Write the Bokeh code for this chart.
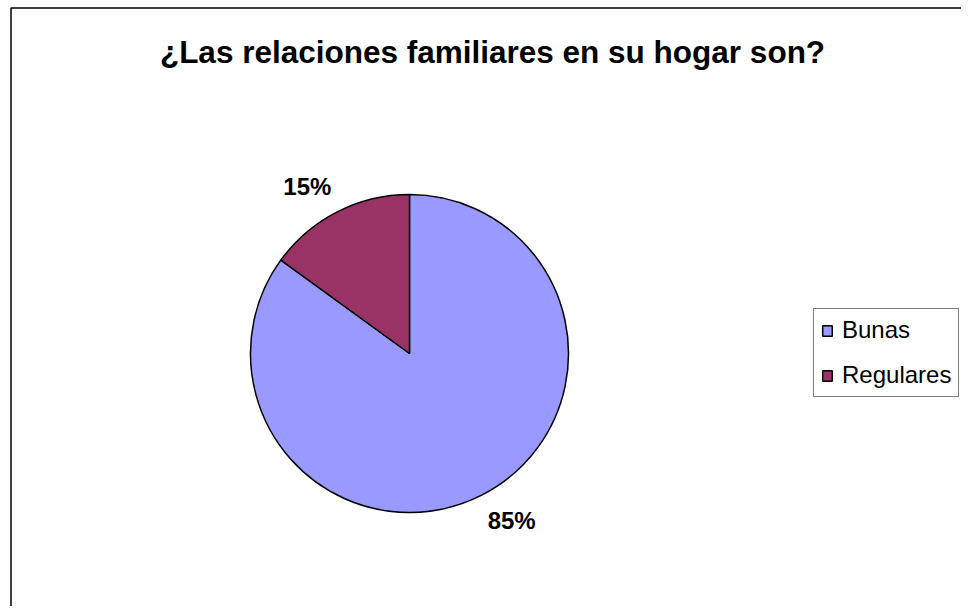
import math
from bokeh.plotting import figure
from bokeh.models import Range1d, Label, Legend, LegendItem, BoxAnnotation, ColumnDataSource
from bokeh.embed import file_html
from bokeh.resources import INLINE

title_text = "¿Las relaciones familiares en su hogar son?"
categories = ["Bunas", "Regulares"]
percentages = [85, 15]
colors = ["#9999FF", "#993366"]

W, H = 961, 606
p = figure(width=W, height=H, output_backend="svg", toolbar_location=None,
           x_range=Range1d(0, W), y_range=Range1d(0, H),
           min_border=0, outline_line_color=None)
p.axis.visible = False
p.grid.visible = False
p.background_fill_color = "white"
p.border_fill_color = "white"

# chart-area border (its right and bottom edges lie outside the picture)
p.add_layout(BoxAnnotation(left=10.5, top=H - 7.5, right=W + 20, bottom=-20,
                           fill_alpha=0, line_color="black", line_alpha=1,
                           line_width=1.5, level="underlay"))

cx, cy, R = 409, H - 353, 159
total = sum(percentages)
starts, ends, lx, ly, labels = [], [], [], [], []
cum = 0.0
for v in percentages:
    a0 = math.pi / 2 - 2 * math.pi * cum / total
    cum += v
    a1 = math.pi / 2 - 2 * math.pi * cum / total
    starts.append(a0)
    ends.append(a1)
    mid = (a0 + a1) / 2 + math.radians(4.5)
    lx.append(cx + 1.23 * R * math.cos(mid))
    ly.append(cy + 1.23 * R * math.sin(mid))
    labels.append(f"{v}%")

src = ColumnDataSource(dict(x=[cx] * len(categories), y=[cy] * len(categories),
                            start=starts, end=ends, color=colors, cat=categories,
                            lx=lx, ly=ly, lab=labels))
r = p.wedge(x="x", y="y", radius=R, radius_units="screen", start_angle="start",
            end_angle="end", direction="clock", fill_color="color",
            line_color="black", line_width=1.5, source=src)

p.text(x="lx", y="ly", text="lab", source=src, text_align="center",
       text_baseline="middle", text_font_size="24px", text_font_style="bold",
       text_font={"value": "Liberation Sans"}, text_color="black")

p.add_layout(Label(x=492, y=H - 51, text=title_text, text_align="center",
                   text_baseline="middle", text_font_size="31.5px",
                   text_font_style="bold", text_font="Liberation Sans",
                   text_color="black"))

items = [LegendItem(label=c, renderers=[r], index=i) for i, c in enumerate(categories)]
legend = Legend(items=items, location=(813, H - 397), orientation="vertical",
                label_text_font="Liberation Sans", label_text_font_size="24px",
                label_text_color="black",
                glyph_width=12, glyph_height=13, label_height=26, spacing=17,
                padding=7, margin=0, label_standoff=9,
                border_line_color="black", border_line_width=1,
                background_fill_color="white", background_fill_alpha=1)
p.add_layout(legend, "center")

open("out.html", "w").write(file_html(p, INLINE))
